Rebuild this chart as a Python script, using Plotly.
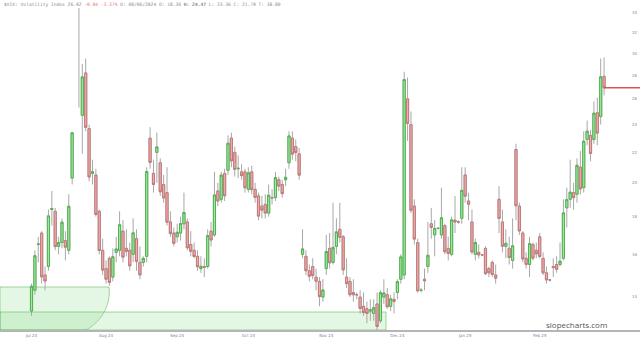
import plotly.graph_objects as go
import pandas as pd

# ---------------- data ----------------
dates = [d.strftime("%Y-%m-%d") for d in pd.bdate_range("2024-07-17", "2025-03-11")]

open_ = [
    # Jul
    13.4, 14.3, 16.5, 17.1, 15.0, 15.4, 18.4, 18.3, 16.4, 16.6, 16.7,
    # Aug
    16.2, 20.3, 36.0, 38.0, 24.7, 28.2, 23.7, 20.6, 20.5, 18.3, 16.2, 15.3, 15.8, 14.9, 16.1, 16.2, 17.2, 16.3, 16.2, 16.0, 16.8, 15.6,
    # Sep
    15.6, 15.9, 23.0, 20.6, 22.0, 21.3, 19.9, 19.4, 17.7, 17.1, 16.9, 17.1, 17.6, 17.7, 16.5, 16.2, 15.9, 15.3, 15.4, 15.4, 17.2,
    # Oct
    17.0, 19.5, 19.0, 20.6, 20.8, 23.0, 22.0, 20.9, 20.7, 20.7, 19.6, 20.7, 19.6, 19.2, 18.6, 18.7, 18.2, 19.1, 19.1, 20.2, 19.9, 20.2, 21.3,
    # Nov
    23.0, 22.4, 21.9, 16.0, 15.9, 15.2, 15.4, 14.9, 14.7, 14.0, 15.3, 16.3, 15.6, 16.4, 17.3, 16.9, 14.9, 14.7, 14.2, 14.1, 14.0,
    # Dec
    13.6, 13.5, 13.4, 13.3, 13.7, 13.0, 14.0, 14.1, 13.6, 13.9, 14.2, 14.8, 15.0, 26.0, 24.0, 18.6, 16.6, 14.3, 14.8, 15.4, 17.6, 17.0,
    # Jan
    17.35, 17.0, 17.5, 16.3, 16.0, 17.8, 17.7, 17.9, 20.5, 18.9, 17.7, 16.0, 16.1, 15.97, 16.3, 15.3, 15.6, 15.0, 19.0, 17.7, 16.4, 16.3, 15.7,
    # Feb
    22.2, 18.6, 17.1, 15.8, 15.5, 16.5, 16.2, 16.9, 15.8, 15.1, 14.77, 15.4, 15.5, 15.5, 15.8, 18.5, 19.0, 19.4, 19.3, 21.0,
    # Mar
    19.7, 22.9, 23.2, 22.9, 24.9, 24.6, 27.9,
]
high = [
    14.6, 16.2, 16.9, 17.2, 15.4, 18.4, 19.5, 18.5, 16.9, 17.9, 17.2,
    19.3, 23.45, 65.73, 40.0, 29.0, 29.5, 24.0, 21.5, 20.9, 18.4, 16.8, 15.7, 15.9, 16.3, 16.9, 18.3, 17.8, 17.3, 16.6, 17.9, 17.3, 16.4,
    15.9, 21.0, 23.8, 21.5, 23.4, 21.6, 20.5, 21.0, 18.3, 17.4, 17.6, 18.0, 19.4, 17.9, 17.2, 16.6, 16.2, 15.9, 15.8, 17.3, 17.7,
    20.7, 20.0, 20.7, 20.9, 23.2, 23.4, 22.4, 21.8, 21.2, 20.9, 21.0, 21.1, 20.0, 19.4, 19.2, 19.3, 19.9, 19.6, 20.7, 20.4, 20.2, 20.9, 23.5,
    23.5, 22.9, 22.3, 17.3, 16.2, 15.5, 15.8, 15.3, 14.9, 14.8, 17.0, 17.1, 18.8, 17.9, 18.8, 17.0, 15.8, 14.9, 14.8, 14.2, 14.3,
    14.2, 13.8, 13.9, 13.9, 14.2, 14.3, 14.8, 14.4, 14.1, 14.2, 14.8, 16.0, 28.3, 27.8, 25.0, 19.0, 16.8, 14.4, 15.3, 17.7, 18.5, 17.8,
    17.4, 19.7, 17.6, 16.9, 18.0, 19.2, 17.8, 21.0, 21.0, 19.4, 18.4, 16.8, 16.5, 16.0, 16.4, 15.4, 15.7, 15.5, 19.8, 18.4, 17.3, 16.9, 17.9,
    22.6, 18.8, 17.2, 16.1, 16.9, 16.6, 16.6, 17.1, 16.1, 15.4, 14.8, 15.8, 15.9, 16.6, 19.0, 19.7, 21.5, 20.0, 21.6, 22.1,
    23.5, 24.3, 23.6, 25.8, 26.1, 29.5, 29.6,
]
low = [
    13.2, 14.1, 15.6, 14.6, 14.3, 15.2, 17.5, 16.2, 16.0, 16.3, 15.7,
    16.0, 19.9, 35.5, 25.3, 21.9, 23.5, 20.1, 19.9, 18.0, 16.0, 15.0, 14.6, 14.5, 14.7, 15.6, 15.9, 15.6, 15.9, 15.2, 15.6, 15.2, 14.8,
    15.4, 15.6, 20.9, 19.4, 20.0, 19.2, 18.8, 17.5, 16.9, 16.4, 16.6, 16.7, 17.3, 16.2, 15.9, 15.8, 15.2, 15.1, 14.9, 15.3, 16.4,
    16.9, 18.6, 18.8, 18.9, 20.5, 21.0, 20.4, 20.3, 20.2, 19.4, 19.4, 19.3, 18.8, 17.8, 17.9, 17.9, 18.0, 18.7, 18.9, 19.5, 19.1, 19.8, 20.9,
    21.5, 21.4, 20.2, 15.8, 15.0, 14.7, 14.8, 14.3, 13.6, 13.8, 15.0, 15.3, 15.5, 16.0, 16.6, 15.0, 14.4, 14.0, 13.8, 13.9, 13.3,
    13.2, 12.9, 13.0, 13.0, 12.6, 12.9, 13.7, 13.5, 13.4, 13.3, 13.9, 14.6, 14.8, 22.8, 18.2, 16.5, 14.2, 14.2, 14.3, 15.1, 16.8, 15.9,
    17.3, 16.8, 16.0, 15.7, 15.9, 17.1, 17.6, 17.6, 18.8, 17.8, 16.0, 15.7, 15.8, 15.9, 15.0, 14.9, 14.9, 14.6, 17.1, 16.1, 15.8, 15.5, 15.3,
    17.8, 17.0, 15.6, 15.3, 14.9, 15.7, 15.8, 15.8, 15.0, 14.6, 14.7, 14.9, 15.1, 15.4, 15.7, 17.4, 18.5, 18.4, 18.8, 19.3,
    19.4, 22.5, 21.4, 22.6, 22.5, 24.0, 26.3,
]
close = [
    14.48, 15.93, 16.52, 14.91, 14.72, 18.04, 18.46, 16.39, 16.60, 17.69, 16.36,
    18.59, 23.39, 38.57, 35.0, 27.85, 23.79, 20.37, 20.71, 18.12, 16.19, 15.23, 14.80, 14.65, 15.88, 16.27, 17.55, 15.86, 16.15, 15.43, 17.11, 15.65, 15.00,
    15.8, 20.72, 21.32, 19.90, 22.38, 19.45, 19.08, 17.69, 17.07, 16.56, 17.14, 17.61, 18.23, 16.33, 16.15, 15.89, 15.39, 15.41, 15.37, 16.96, 16.73,
    19.26, 18.90, 20.49, 19.21, 22.64, 21.42, 20.86, 20.93, 20.46, 19.70, 20.64, 19.58, 19.11, 18.03, 18.37, 18.20, 19.24, 19.08, 20.33, 19.80, 19.34, 20.35, 23.16,
    21.88, 21.98, 20.49, 16.27, 15.20, 14.94, 14.97, 14.71, 14.02, 14.31, 16.14, 15.58, 16.35, 17.16, 16.87, 15.24, 14.60, 14.10, 14.10, 14.1, 13.51,
    13.34, 13.30, 13.45, 13.54, 12.77, 14.19, 14.18, 13.58, 13.92, 13.81, 14.69, 15.87, 27.62, 24.09, 18.36, 16.78, 14.27, 14.3, 14.73, 15.95, 17.40, 17.35,
    17.35, 17.93, 16.13, 16.04, 17.82, 17.70, 17.7, 19.54, 19.19, 18.71, 16.12, 16.60, 15.97, 15.97, 15.06, 15.10, 15.02, 14.85, 17.90, 16.41, 16.56, 15.84, 16.43,
    18.62, 17.21, 15.77, 15.50, 16.54, 15.81, 16.02, 15.89, 15.10, 14.77, 14.77, 15.35, 15.27, 15.66, 18.21, 18.98, 19.43, 19.10, 21.13, 19.63,
    22.78, 23.51, 21.93, 24.87, 23.37, 27.86, 26.92,
]

y_ticks = [14, 16, 18, 20, 22, 24, 26, 28, 30, 32, 34]
x_tick_dates = ["2024-07-17", "2024-08-16", "2024-09-16", "2024-10-15",
                "2024-11-15", "2024-12-16", "2025-01-13", "2025-02-12"]
x_tick_labels = ["Jul 24", "Aug 24", "Sep 24", "Oct 24", "Nov 24", "Dec 24", "Jan 25", "Feb 25"]

title_text = ("$VIX: Volatility Index 26.92 <span style='color:#e57373'>-0.94 -3.37%</span> "
              "D: 08/06/2024 O: 18.36 <b>H: 29.47</b> L: 23.36 C: 21.79 T: 38.80")

# ---------------- figure ----------------
n = len(dates)
assert n == len(open_) == len(high) == len(low) == len(close)
idx = list(range(n))
tickvals = [dates.index(d) for d in x_tick_dates]

body_hi = [max(o, c) for o, c in zip(open_, close)]
body_lo = [min(o, c) for o, c in zip(open_, close)]

fig = go.Figure()
# wicks (grey)
fig.add_trace(go.Candlestick(
    x=idx, open=open_, high=high, low=low, close=close,
    increasing=dict(line=dict(color="#a8a8a8", width=1), fillcolor="rgba(0,0,0,0)"),
    decreasing=dict(line=dict(color="#a8a8a8", width=1), fillcolor="rgba(0,0,0,0)"),
    whiskerwidth=0, hoverinfo="skip", showlegend=False))
# bodies
fig.add_trace(go.Candlestick(
    x=idx, open=open_, high=body_hi, low=body_lo, close=close,
    increasing=dict(line=dict(color="#52b152", width=1), fillcolor="#9ceb9c"),
    decreasing=dict(line=dict(color="#c07a7a", width=1), fillcolor="#f3aaaa"),
    whiskerwidth=0, showlegend=False))
# last price line
fig.add_trace(go.Scatter(
    x=[idx[-1], idx[-1] + 15], y=[close[-1], close[-1]], mode="lines",
    line=dict(color="#d9534f", width=1.5), hoverinfo="skip", showlegend=False))

# drawn zones (user drawings, in paper coords)
W, H_TOP, H_BOT = 640.0, 8.0, 330.0
def px(x):
    return x / W
def py(y):
    return (H_BOT - y) / (H_BOT - H_TOP)

zone_fill = "rgba(130,220,130,0.22)"
zone_line = "rgba(90,180,90,0.55)"
fig.add_shape(type="path", xref="paper", yref="paper", layer="below",
              path=(f"M 0,{py(287)} L {px(109)},{py(287)} "
                    f"C {px(111)},{py(302)} {px(104)},{py(320)} {px(86)},{py(330)} "
                    f"L 0,{py(330)} Z"),
              fillcolor=zone_fill, line=dict(color=zone_line, width=1))
fig.add_shape(type="rect", xref="paper", yref="paper", layer="below",
              x0=0, x1=px(386), y0=py(330), y1=py(312),
              fillcolor=zone_fill, line=dict(color=zone_line, width=1))

fig.add_annotation(text=title_text, xref="paper", yref="paper", x=0.003, y=py(5),
                   xanchor="left", yanchor="middle", showarrow=False,
                   font=dict(family="DejaVu Sans Mono", size=4.6, color="#8a8a8a"))
fig.add_annotation(text="slopecharts.com", xref="paper", yref="paper", x=px(609), y=py(324),
                   xanchor="right", yanchor="middle", showarrow=False,
                   font=dict(family="Open Sans", size=8, color="#555555"))

fig.update_layout(
    width=640, height=341, autosize=False,
    margin=dict(l=0, r=0, t=8, b=11),
    paper_bgcolor="white", plot_bgcolor="white",
    boxgap=0.1,
    xaxis=dict(range=[-31.5 / 3.388, (640 - 31.5) / 3.388], rangeslider=dict(visible=False),
               showgrid=False, zeroline=False, tickmode="array", tickvals=tickvals,
               ticktext=x_tick_labels, ticks="", showline=True, linecolor="#b5b5b5", linewidth=1.5,
               tickfont=dict(family="DejaVu Sans", size=4, color="#7b80aa")),
    yaxis=dict(type="log", range=[1.10140, 1.53833], side="right", showgrid=False, zeroline=False,
               tickmode="array", tickvals=y_ticks, ticktext=[str(v) for v in y_ticks],
               ticklabelposition="inside", ticks="",
               tickfont=dict(family="DejaVu Sans", size=4, color="#8a8a8a")),
)

fig.write_html("out.html")
